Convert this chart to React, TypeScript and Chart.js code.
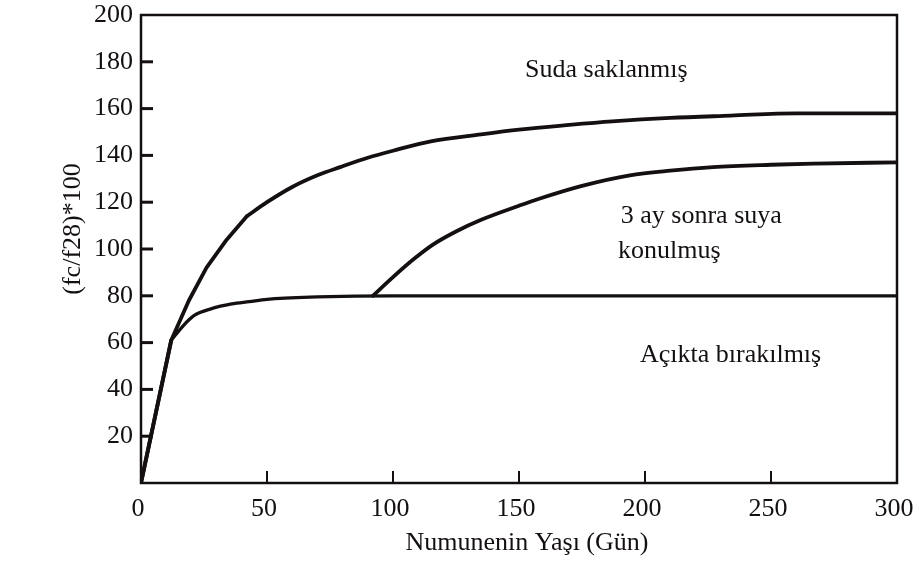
import { useEffect, useRef } from 'react';
import { Chart, registerables } from 'chart.js';

Chart.register(...registerables);

// ---- data ----
// "Suda saklanmış": early straight rise, then the curved plateau after the kink at ~42 days
const sudaRiseDays = [0, 12, 19, 26, 34, 42];
const sudaRiseValues = [0, 61, 78, 92, 104, 114];
const sudaDays = [42, 50, 60, 70, 79, 90, 100, 115, 135, 150, 170, 187, 210, 234, 260, 300];
const sudaValues = [114, 120, 126.5, 131.5, 135, 139, 142, 146, 149, 151, 153, 154.5, 156, 157, 158, 158];

// "Açıkta bırakılmış": shared straight rise, then levelling off at 80
const acikRiseDays = [0, 12];
const acikRiseValues = [0, 61];
const acikDays = [12, 17, 21, 28, 36, 43, 50, 70, 100, 150, 200, 250, 300];
const acikValues = [61, 67.5, 71.5, 74.5, 76.5, 77.5, 78.5, 79.5, 80, 80, 80, 80, 80];

// "3 ay sonra suya konulmuş"
const ucAyDays = [92, 100, 108, 116, 125, 135, 150, 158, 175, 194, 210, 227, 250, 267, 300];
const ucAyValues = [80, 88, 95.5, 102, 107.5, 112.5, 118.5, 121.5, 127, 131.5, 133.5, 135, 136, 136.5, 137];

const xTickValues = [0, 50, 100, 150, 200, 250, 300];
const yTickValues = [0, 20, 40, 60, 80, 100, 120, 140, 160, 180, 200];

const xTitle = 'Numunenin Yaşı (Gün)';
const yTitle = '(fc/f28)*100';

// curve labels, in data coordinates (day, value) of the text's left baseline
const labelTexts = ['Suda saklanmış', '3 ay sonra suya', 'konulmuş', 'Açıkta bırakılmış'];
const labelDays = [152.4, 190.4, 189.3, 198];
const labelValues = [173.5, 111.1, 96.2, 51.7];

const INK = '#141010';
const FONT = "'Liberation Serif', 'Times New Roman', serif";

const toPoints = (xs: number[], ys: number[]) => xs.map((x, i) => ({ x, y: ys[i] }));

const framePlugin = {
  id: 'frameAndText',
  afterDatasetsDraw(chart: any) {
    const { ctx, chartArea: a, scales } = chart;
    const x = scales.x;
    const y = scales.y;
    ctx.save();
    ctx.strokeStyle = INK;
    ctx.lineWidth = 2.5;
    ctx.strokeRect(a.left, a.top, a.right - a.left, a.bottom - a.top);

    ctx.lineWidth = 3;
    yTickValues.forEach((v) => {
      if (v <= y.min || v >= y.max) return;
      const py = y.getPixelForValue(v);
      ctx.beginPath();
      ctx.moveTo(a.left, py);
      ctx.lineTo(a.left + 12, py);
      ctx.stroke();
    });
    ctx.lineWidth = 2;
    xTickValues.forEach((v) => {
      if (v <= x.min || v >= x.max) return;
      const px = x.getPixelForValue(v);
      ctx.beginPath();
      ctx.moveTo(px, a.bottom);
      ctx.lineTo(px, a.bottom - 12);
      ctx.stroke();
    });

    ctx.fillStyle = INK;
    ctx.font = `26px ${FONT}`;
    ctx.textAlign = 'center';
    ctx.textBaseline = 'alphabetic';
    ctx.fillText(xTitle, (a.left + a.right) / 2 + 8, a.bottom + 67);

    ctx.save();
    ctx.translate(a.left - 68, (a.top + a.bottom) / 2 - 20);
    ctx.rotate(-Math.PI / 2);
    ctx.textBaseline = 'middle';
    ctx.fillText(yTitle, 0, 0);
    ctx.restore();

    ctx.textAlign = 'left';
    ctx.textBaseline = 'alphabetic';
    labelTexts.forEach((t, i) => {
      ctx.fillText(t, x.getPixelForValue(labelDays[i]), y.getPixelForValue(labelValues[i]));
    });
    ctx.restore();
  },
};

export default function App() {
  const ref = useRef<HTMLCanvasElement>(null);

  useEffect(() => {
    const canvas = ref.current;
    if (!canvas) return;
    const straight = {
      borderColor: INK,
      borderWidth: 3.8,
      pointRadius: 0,
      tension: 0,
      fill: false,
      borderJoinStyle: 'round' as const,
      borderCapStyle: 'round' as const,
    };
    const curved = { ...straight, cubicInterpolationMode: 'monotone' as const };
    const chart = new Chart(canvas, {
      type: 'line',
      data: {
        datasets: [
          { label: 'Suda saklanmış (rise)', data: toPoints(sudaRiseDays, sudaRiseValues), ...straight },
          { label: 'Suda saklanmış', data: toPoints(sudaDays, sudaValues), ...curved },
          { label: 'Açıkta bırakılmış (rise)', data: toPoints(acikRiseDays, acikRiseValues), ...straight },
          { label: 'Açıkta bırakılmış', data: toPoints(acikDays, acikValues), ...curved, borderWidth: 3.3 },
          { label: '3 ay sonra suya konulmuş', data: toPoints(ucAyDays, ucAyValues), ...curved },
        ],
      },
      options: {
        responsive: false,
        animation: false,
        devicePixelRatio: 1,
        layout: { padding: { top: 15, right: 18, left: 0, bottom: 0 } },
        plugins: { legend: { display: false }, tooltip: { enabled: false } },
        scales: {
          x: {
            type: 'linear',
            min: 0,
            max: 300,
            afterBuildTicks: (s: any) => {
              s.ticks = xTickValues.map((v) => ({ value: v }));
            },
            afterFit: (s: any) => {
              s.height = 80;
              s.paddingLeft = 0;
              s.paddingRight = 0;
            },
            grid: { display: false, drawTicks: false, tickLength: 0 },
            border: { display: false },
            ticks: {
              color: INK,
              font: { family: FONT, size: 26 },
              padding: 11,
              labelOffset: -3,
              maxRotation: 0,
              autoSkip: false,
            },
          },
          y: {
            type: 'linear',
            min: 0,
            max: 200,
            afterBuildTicks: (s: any) => {
              s.ticks = yTickValues.map((v) => ({ value: v }));
            },
            afterFit: (s: any) => {
              s.width = 141;
              s.paddingTop = 0;
              s.paddingBottom = 0;
            },
            grid: { display: false, drawTicks: false, tickLength: 0 },
            border: { display: false },
            ticks: {
              color: INK,
              font: { family: FONT, size: 26 },
              padding: 8,
              autoSkip: false,
              callback: (v: any) => (Number(v) === 0 ? '' : String(v)),
            },
          },
        },
      },
      plugins: [framePlugin],
    });
    return () => chart.destroy();
  }, []);

  return (
    <div style={{ position: 'fixed', left: 0, top: 0, width: 915, height: 563, background: '#fff' }}>
      <canvas ref={ref} width={915} height={563} style={{ display: 'block', width: 915, height: 563 }} />
    </div>
  );
}
